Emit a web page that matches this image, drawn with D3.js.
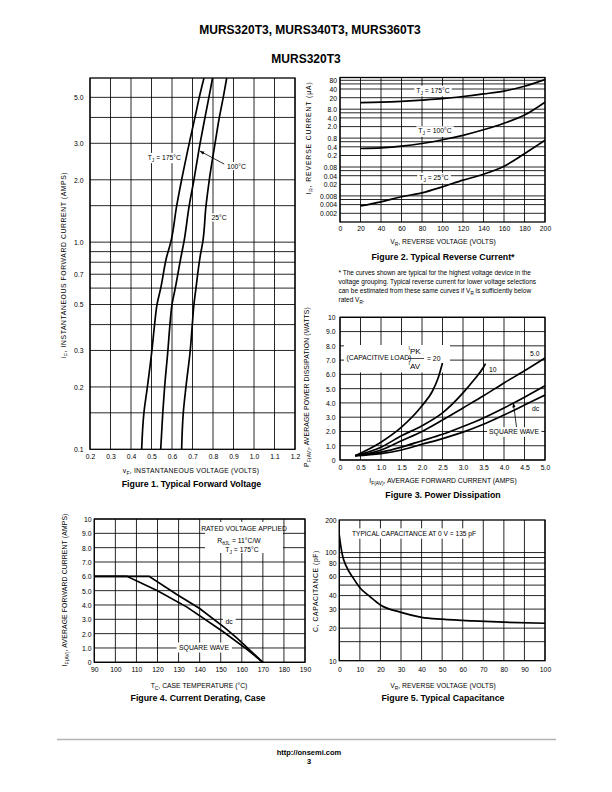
<!DOCTYPE html>
<html><head><meta charset="utf-8">
<script src="https://cdn.jsdelivr.net/npm/d3@7"></script>
<style>
body{margin:0;background:#fff}
</style></head><body>
<svg id="page" width="612" height="792" xmlns="http://www.w3.org/2000/svg"></svg>
<script>
// ---------------- DATA ----------------
// Figure 1 : Typical Forward Voltage
const fig1XTicks = [0.2,0.3,0.4,0.5,0.6,0.7,0.8,0.9,1.0,1.1,1.2];
const fig1YTicks = [0.1,0.2,0.3,0.5,0.7,1.0,2.0,3.0,5.0];
const fig1YGrid  = [0.15,0.2,0.3,0.4,0.5,0.6,0.7,0.8,0.9,1.0,1.5,2.0,3.0,4.0,5.0];
const fig1Current = [0.1,0.15,0.2,0.3,0.4,0.5,0.6,0.85,1.0,1.5,2.0,3.0,4.0,5.0,6.2];
const fig1V175 = [0.452,0.463,0.480,0.502,0.515,0.527,0.545,0.574,0.594,0.623,0.647,0.684,0.712,0.733,0.756];
const fig1V100 = [0.545,0.555,0.564,0.580,0.590,0.600,0.616,0.644,0.658,0.684,0.707,0.737,0.761,0.780,0.798];
const fig1V25  = [0.647,0.655,0.668,0.689,0.699,0.707,0.717,0.737,0.750,0.766,0.782,0.810,0.831,0.850,0.867];

// Figure 2 : Typical Reverse Current
const fig2XTicks = [0,20,40,60,80,100,120,140,160,180,200];
const fig2YTicks = [80,40,20,8,4,2,0.8,0.4,0.2,0.08,0.04,0.02,0.008,0.004,0.002];
const fig2YTickLabels = ["80","40","20","8.0","4.0","2.0","0.8","0.4","0.2","0.08","0.04","0.02","0.008","0.004","0.002"];
const fig2YGrid = [0.002,0.004,0.006,0.008,0.02,0.04,0.06,0.08,0.2,0.4,0.6,0.8,2,4,6,8,20,40,60,80];
const fig2Voltage = [20,40,60,80,100,120,140,160,180,200];
const fig2I175 = [13.5,14,15,16.5,18.5,22,27,34,50,85];
const fig2I100 = [0.35,0.37,0.42,0.52,0.7,1.0,1.55,2.6,5.0,14];
const fig2I25  = [0.0036,0.005,0.0075,0.0102,0.0165,0.028,0.045,0.085,0.23,0.67];

// Figure 3 : Power Dissipation
const fig3XTicks = [0,0.5,1.0,1.5,2.0,2.5,3.0,3.5,4.0,4.5,5.0];
const fig3YTicks = [0,1,2,3,4,5,6,7,8,9,10];
const fig3Current20 = [0.37,1.0,1.5,2.0,2.25,2.4,2.5];
const fig3Power20   = [0.3,1.25,2.3,3.8,4.8,5.8,6.8];
const fig3Current10 = [0.37,1.0,1.5,2.0,2.5,3.0,3.25,3.5,3.55];
const fig3Power10   = [0.3,0.9,1.7,2.4,3.3,4.7,5.55,6.5,6.75];
const fig3CurrentB  = [0.37,1.0,1.5,2.0,2.5,3.0,3.5,4.0,4.5,5.0];
const fig3Power5    = [0.3,0.7,1.35,2.0,2.8,3.65,4.5,5.4,6.25,7.15];
const fig3PowerSq   = [0.3,0.55,0.9,1.35,1.8,2.35,2.95,3.65,4.4,5.2];
const fig3PowerDc   = [0.3,0.45,0.7,1.1,1.5,1.95,2.5,3.15,3.85,4.55];

// Figure 4 : Current Derating, Case
const fig4XTicks = [90,100,110,120,130,140,150,160,170,180,190];
const fig4YTicks = [0,1,2,3,4,5,6,7,8,9,10];
const fig4TempDc = [90,116,129,140,152,158,170];
const fig4CurrDc = [6,6,4.75,3.75,2.4,1.65,0];
const fig4TempSq = [90,105.5,120,134,151,162,170];
const fig4CurrSq = [6,6,5.0,3.85,2.15,0.95,0];

// Figure 5 : Typical Capacitance
const fig5XTicks = [0,10,20,30,40,50,60,70,80,90,100];
const fig5YTicks = [10,20,30,40,60,80,100,200];
const fig5YGrid  = [15,20,30,40,50,60,70,80,90,100];
const fig5Voltage = [0,0.65,1.5,3.5,6.8,10,15,20,30,40,50,65,80,100];
const fig5Cap     = [145,117,95,74,58,47.3,39,32.7,28,25.2,24.2,23.3,22.7,22.2];

// ---------------- DRAWING ----------------
const FN = '"Liberation Sans Narrow","Liberation Sans",Arial,sans-serif';
const FR = '"Liberation Sans",Arial,sans-serif';
const svg = d3.select('#page');
const defs = svg.append('defs');
defs.append('marker').attr('id','arr').attr('viewBox','0 0 10 10').attr('refX',9).attr('refY',5)
  .attr('markerWidth',6).attr('markerHeight',6).attr('orient','auto-start-reverse')
  .append('path').attr('d','M0,1.5 L10,5 L0,8.5 Z').attr('fill','#000');

function rich(t, segs, size){
  let shift = 0;
  segs.forEach(s=>{
    const o = (typeof s === 'string') ? {t:s} : s;
    const ts = t.append('tspan').text(o.t);
    const target = o.sub ? size*0.3 : 0;
    if (target !== shift){ ts.attr('dy', target - shift); shift = target; }
    if (o.sub) ts.attr('font-size', size*0.72);
  });
  return t;
}
function txt(g, x, y, segs, opt={}){
  const size = opt.size || 6.8;
  const t = g.append('text').attr('x',x).attr('y',y)
    .attr('font-family', opt.bold || opt.regular ? FR : FN).attr('font-size',size)
    .attr('font-weight', opt.bold ? 'bold' : null)
    .attr('text-anchor', opt.anchor || 'start').attr('fill','#000');
  if (opt.ls) t.attr('letter-spacing', opt.ls);
  if (opt.rotate) t.attr('x',0).attr('y',0).attr('transform',`translate(${x},${y}) rotate(-90)`);
  rich(t, segs, size);
  if (opt.box){
    const b = t.node().getBBox();
    const p = opt.box;
    g.insert('rect', () => t.node()).attr('x', b.x-p).attr('y', b.y-p*0.4)
      .attr('width', b.width+2*p).attr('height', b.height+p*0.8).attr('fill','#fff');
  }
  return t;
}
let clipId = 0;
function plot(cfg){
  const {x, y} = cfg;
  const [x0,x1] = x.range(), [yb,yt] = y.range();
  const g = svg.append('g');
  const grid = g.append('g').attr('stroke','#000').attr('stroke-width',0.85);
  grid.selectAll('line.v').data(cfg.xGrid).join('line').attr('class','v')
    .attr('x1',d=>x(d)).attr('x2',d=>x(d)).attr('y1',yb).attr('y2',yt);
  grid.selectAll('line.h').data(cfg.yGrid).join('line').attr('class','h')
    .attr('y1',d=>y(d)).attr('y2',d=>y(d)).attr('x1',x0).attr('x2',x1);
  const labels = g.append('g');
  const id = 'clip'+(clipId++);
  defs.append('clipPath').attr('id',id).append('rect')
    .attr('x',x0).attr('y',yt).attr('width',x1-x0).attr('height',yb-yt);
  const curves = g.append('g').attr('clip-path',`url(#${id})`)
    .attr('fill','none').attr('stroke','#000').attr('stroke-width',1.7);
  g.append('rect').attr('x',x0).attr('y',yt).attr('width',x1-x0).attr('height',yb-yt)
    .attr('fill','none').attr('stroke','#000').attr('stroke-width',1.3);
  // tick labels through d3 axes
  const ax = g.append('g').call(d3.axisBottom(x).tickValues(cfg.xTicks).tickFormat(cfg.xFmt).tickSize(0));
  ax.select('.domain').remove();
  ax.attr('font-family',FN).attr('font-size',6.8);
  ax.selectAll('text').attr('y',cfg.xLabelY).attr('dy','0.35em').attr('fill','#000');
  const ay = g.append('g').call(d3.axisLeft(y).tickValues(cfg.yTicks).tickFormat(cfg.yFmt).tickSize(0));
  ay.select('.domain').remove();
  ay.attr('font-family',FN).attr('font-size',6.8);
  ay.selectAll('text').attr('x',cfg.yLabelX).attr('dy','0.35em').attr('fill','#000');
  return {g, labels, curves};
}
function curve(layer, x, y, xs, ys, cv){
  const line = d3.line().x(d=>x(d[0])).y(d=>y(d[1])).curve(cv || d3.curveMonotoneX);
  layer.append('path').attr('d', line(xs.map((v,i)=>[v, ys[i]])));
}
function arrow(g, x1, y1, x2, y2){
  g.append('line').attr('x1',x1).attr('y1',y1).attr('x2',x2).attr('y2',y2)
    .attr('stroke','#000').attr('stroke-width',0.8).attr('marker-end','url(#arr)');
}
const CAP = 8.8;

// Header
txt(svg, 310, 33.5, ['MURS320T3, MURS340T3, MURS360T3'], {size:12, bold:true, anchor:'middle'});
txt(svg, 306, 62.5, ['MURS320T3'], {size:12, bold:true, anchor:'middle'});

// ---- Figure 1
{
  const x = d3.scaleLinear().domain([0.2,1.2]).range([90,295]);
  const y = d3.scaleLog().domain([0.1,6.2]).range([449.3,78]);
  const p = plot({x,y,xGrid:fig1XTicks,yGrid:fig1YGrid,xTicks:fig1XTicks,xFmt:d3.format('.1f'),xLabelY:456.5,
    yTicks:fig1YTicks,yFmt:d3.format('.1f'),yLabelX:83.5});
  txt(p.labels, 181, 159.5, ['T',{t:'J',sub:true},' = 175°C'], {anchor:'end', box:1.5});
  txt(p.labels, 227, 168.5, ['100°C'], {box:1.5});
  txt(p.labels, 211.5, 220, ['25°C'], {box:1.5});
  curve(p.curves, x, y, fig1V175, fig1Current, d3.curveMonotoneY);
  curve(p.curves, x, y, fig1V100, fig1Current, d3.curveMonotoneY);
  curve(p.curves, x, y, fig1V25,  fig1Current, d3.curveMonotoneY);
  arrow(p.g, x(0.855), y(2.38), x(0.737), y(2.75));
  txt(svg, 66, 265, ['i',{t:'F',sub:true},', INSTANTANEOUS FORWARD CURRENT (AMPS)'], {rotate:true, anchor:'middle', ls:0.6});
  txt(svg, 191, 472.5, ['v',{t:'F',sub:true},', INSTANTANEOUS VOLTAGE (VOLTS)'], {anchor:'middle', ls:0.25});
  txt(svg, 191.5, 487, ['Figure 1. Typical Forward Voltage'], {size:CAP, bold:true, anchor:'middle'});
}

// ---- Figure 2
{
  const x = d3.scaleLinear().domain([0,200]).range([340,545]);
  const y = d3.scaleLog().domain([0.001,100]).range([222,77.5]);
  const p = plot({x,y,xGrid:fig2XTicks,yGrid:fig2YGrid,xTicks:fig2XTicks,xFmt:d3.format('d'),xLabelY:229,
    yTicks:fig2YTicks,yFmt:(d,i)=>fig2YTickLabels[i],yLabelX:337});
  txt(p.labels, 433, 92.5, ['T',{t:'J',sub:true},' = 175°C'], {anchor:'middle', box:2});
  txt(p.labels, 435, 133, ['T',{t:'J',sub:true},' = 100°C'], {anchor:'middle', box:2});
  txt(p.labels, 434, 179.6, ['T',{t:'J',sub:true},' = 25°C'], {anchor:'middle', box:2});
  curve(p.curves, x, y, fig2Voltage, fig2I175);
  curve(p.curves, x, y, fig2Voltage, fig2I100);
  curve(p.curves, x, y, fig2Voltage, fig2I25);
  txt(svg, 310.5, 138, ['I',{t:'R',sub:true},', REVERSE CURRENT (μA)'], {rotate:true, anchor:'middle', ls:0.9});
  txt(svg, 443, 243.5, ['V',{t:'R',sub:true},', REVERSE VOLTAGE (VOLTS)'], {anchor:'middle'});
  txt(svg, 443, 260, ['Figure 2. Typical Reverse Current*'], {size:CAP, bold:true, anchor:'middle'});
  const note = [
    ['* The curves shown are typical for the highest voltage device in the'],
    ['voltage grouping. Typical reverse current for lower voltage selections'],
    ['can be estimated from these same curves if V',{t:'R',sub:true},' is sufficiently below'],
    ['rated V',{t:'R',sub:true},'.']];
  note.forEach((s,i)=> txt(svg, 338.5, 274.5 + i*9.3, s, {size:6.5, regular:true}));
}

// ---- Figure 3
{
  const x = d3.scaleLinear().domain([0,5]).range([340,545]);
  const y = d3.scaleLinear().domain([0,10]).range([460,317.3]);
  const p = plot({x,y,xGrid:fig3XTicks,yGrid:fig3YTicks,xTicks:fig3XTicks,xFmt:d=>d===0?'0':d3.format('.1f')(d),xLabelY:468,
    yTicks:fig3YTicks,yFmt:d=>(d===0||d===10)?String(d):d3.format('.1f')(d),yLabelX:335.5});
  const lb = p.labels;
  lb.append('rect').attr('x',344).attr('y',345).attr('width',106).attr('height',27.5).attr('fill','#fff');
  txt(lb, 346.5, 359.5, ['(CAPACITIVE LOAD)']);
  const t1 = lb.append('text').attr('x',408.5).attr('y',353.5).attr('font-family',FN).attr('fill','#000');
  t1.append('tspan').attr('font-size',5).attr('dy',-3.5).text('I');
  t1.append('tspan').attr('font-size',8).attr('dy',3.5).text('PK');
  const t2 = lb.append('text').attr('x',408.5).attr('y',368.5).attr('font-family',FN).attr('fill','#000');
  t2.append('tspan').attr('font-size',5).attr('dy',-3.5).text('I');
  t2.append('tspan').attr('font-size',8).attr('dy',3.5).text('AV');
  lb.append('line').attr('x1',408).attr('x2',424).attr('y1',358.5).attr('y2',358.5).attr('stroke','#000').attr('stroke-width',0.7);
  txt(lb, 427, 360.5, ['=  20']);
  txt(lb, 530, 355.5, ['5.0'], {box:1.5});
  txt(lb, 489, 371.5, ['10'], {box:1.5});
  txt(lb, 532, 410.5, ['dc'], {box:1.5});
  txt(lb, 514, 434, ['SQUARE WAVE'], {anchor:'middle', box:2});
  curve(p.curves, x, y, fig3Current20, fig3Power20);
  curve(p.curves, x, y, fig3Current10, fig3Power10);
  curve(p.curves, x, y, fig3CurrentB, fig3Power5);
  curve(p.curves, x, y, fig3CurrentB, fig3PowerSq);
  curve(p.curves, x, y, fig3CurrentB, fig3PowerDc);
  arrow(p.g, 516.5, 427, x(4.23), y(3.98));
  txt(svg, 309, 387, ['P',{t:'F(AV)',sub:true},', AVERAGE POWER DISSIPATION (WATTS)'], {rotate:true, anchor:'middle', ls:0.15});
  txt(svg, 443, 483, ['I',{t:'F(AV)',sub:true},', AVERAGE FORWARD CURRENT (AMPS)'], {anchor:'middle'});
  txt(svg, 443, 497.5, ['Figure 3. Power Dissipation'], {size:CAP, bold:true, anchor:'middle'});
}

// ---- Figure 4
{
  const x = d3.scaleLinear().domain([90,190]).range([94.3,305]);
  const y = d3.scaleLinear().domain([0,10]).range([662.3,519]);
  const p = plot({x,y,xGrid:fig4XTicks,yGrid:fig4YTicks,xTicks:fig4XTicks,xFmt:d3.format('d'),xLabelY:670,
    yTicks:fig4YTicks,yFmt:d=>(d===0||d===10)?String(d):d3.format('.1f')(d),yLabelX:91.5});
  const lb = p.labels;
  lb.append('rect').attr('x',205).attr('y',522).attr('width',78).attr('height',31).attr('fill','#fff');
  txt(lb, 244, 530.5, ['RATED VOLTAGE APPLIED'], {anchor:'middle'});
  txt(lb, 239, 543, ['R',{t:'θJL',sub:true},' = 11°C/W'], {anchor:'middle'});
  txt(lb, 242, 551.5, ['T',{t:'J',sub:true},' = 175°C'], {anchor:'middle'});
  txt(lb, 229, 623.5, ['dc'], {anchor:'middle', box:2.5});
  txt(lb, 204, 649.5, ['SQUARE WAVE'], {anchor:'middle', box:2.5});
  curve(p.curves, x, y, fig4TempDc, fig4CurrDc, d3.curveLinear);
  curve(p.curves, x, y, fig4TempSq, fig4CurrSq, d3.curveLinear);
  txt(svg, 66.5, 590, ['I',{t:'F(AV)',sub:true},', AVERAGE FORWARD CURRENT (AMPS)'], {rotate:true, anchor:'middle', ls:0.15});
  txt(svg, 199, 687.5, ['T',{t:'C',sub:true},', CASE TEMPERATURE (°C)'], {anchor:'middle'});
  txt(svg, 198, 701, ['Figure 4. Current Derating, Case'], {size:CAP, bold:true, anchor:'middle'});
}

// ---- Figure 5
{
  const x = d3.scaleLinear().domain([0,100]).range([339.3,545]);
  const y = d3.scaleLog().domain([10,200]).range([660.7,520]);
  const p = plot({x,y,xGrid:fig5XTicks,yGrid:fig5YGrid,xTicks:fig5XTicks,xFmt:d3.format('d'),xLabelY:670,
    yTicks:fig5YTicks,yFmt:d3.format('d'),yLabelX:336.5});
  txt(p.labels, 414, 535.5, ['TYPICAL CAPACITANCE AT 0 V = 135 pF'], {anchor:'middle', box:3, size:6.6});
  curve(p.curves, x, y, fig5Voltage, fig5Cap);
  txt(svg, 317.5, 591, ['C, CAPACITANCE  (pF)'], {rotate:true, anchor:'middle', ls:0.6});
  txt(svg, 443, 687.5, ['V',{t:'R',sub:true},', REVERSE VOLTAGE (VOLTS)'], {anchor:'middle'});
  txt(svg, 443, 701, ['Figure 5. Typical Capacitance'], {size:CAP, bold:true, anchor:'middle'});
}

// Footer
svg.append('line').attr('x1',57).attr('x2',556).attr('y1',739.5).attr('y2',739.5).attr('stroke','#b4b4b4').attr('stroke-width',1.6);
txt(svg, 309, 755, ['http://onsemi.com'], {size:7.5, bold:true, anchor:'middle'});
txt(svg, 309, 763.5, ['3'], {size:7.5, bold:true, anchor:'middle'});
</script>
</body></html>
